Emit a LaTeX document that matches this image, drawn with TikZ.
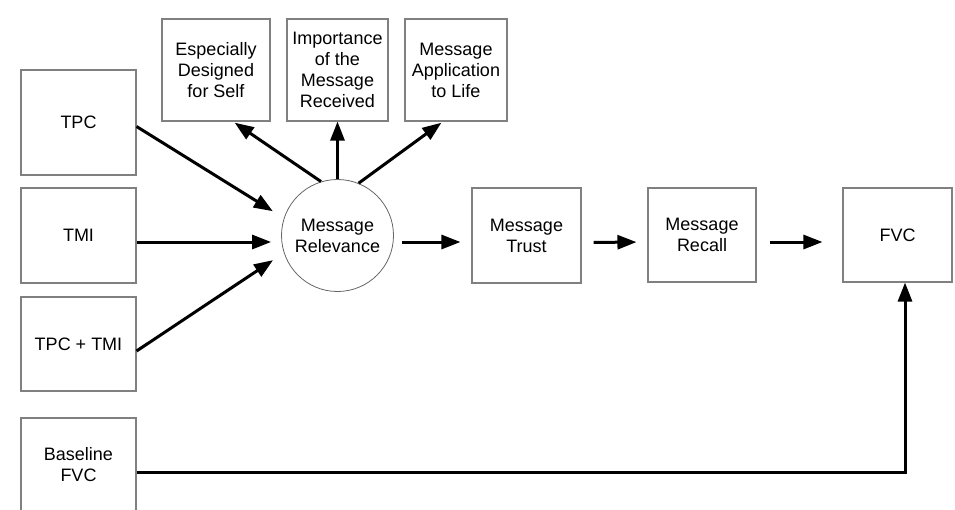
\documentclass[tikz,border=0pt]{standalone}
\usepackage{fontspec}
\setmainfont{Liberation Sans}
\usepackage{tikz}
\usetikzlibrary{arrows.meta,%
	positioning,%
	calc}

\begin{document}
\begin{tikzpicture}[x=1pt, y=-1pt, box/.style = {rectangle, draw=gray, line width=1.1pt, fill=white, align=center, inner sep=2pt, font=\fontsize{18}{21}\selectfont},factor/.style = {circle, draw=gray!80!black, line width=0.8pt, fill=white, align=center, inner sep=0pt, minimum size=112pt, font=\fontsize{18}{21}\selectfont},edge/.style = {line width=3pt, -{Triangle[length=19pt,width=14pt]}}]
	\useasboundingbox (0,0) rectangle (955,509);
	\node[box, minimum width=115pt, minimum height=105pt] (tpc) at (78.5,122.5) {TPC};
	\node[box, minimum width=115pt, minimum height=95pt] (tmi) at (78.5,235.5) {TMI};
	\node[box, minimum width=115pt, minimum height=94pt] (both) at (78.5,344) {TPC + TMI};
	\node[box, minimum width=115pt, minimum height=94pt] (base) at (78.5,465) {Baseline\\FVC};
	\node[factor] (rel) at (337.5,235.5) {Message\\Relevance};
	\node[box, minimum width=108pt, minimum height=102pt] (self) at (216,70) {Especially\\Designed\\for Self};
	\node[box, minimum width=101pt, minimum height=102pt] (imp) at (337.5,70) {Importance\\of the\\Message\\Received};
	\node[box, minimum width=102pt, minimum height=102pt] (life) at (456,70) {Message\\Application\\to Life};
	\node[box, minimum width=109pt, minimum height=95pt] (trust) at (526.5,235.5) {Message\\Trust};
	\node[box, minimum width=108pt, minimum height=94pt] (recall) at (702,235) {Message\\Recall};
	\node[box, minimum width=109pt, minimum height=94pt] (fvc) at (897.5,235) {FVC};
	% inputs to relevance
	\draw[edge, shorten >=13pt] ([yshift=-4pt]tpc.east) to (rel.162);
	\draw[edge, shorten >=10pt] ([yshift=-6.5pt]tmi.east) to ([yshift=-6.5pt]rel.west);
	\draw[edge, shorten >=13pt] ([yshift=-7pt]both.east) to (rel.198);
	% relevance to its parts
	\draw[edge, shorten >=2pt] (rel.107) to ([xshift=17pt]self.south);
	\draw[edge] (rel.north) to (imp.south);
	\draw[edge, shorten >=2pt] (rel.68) to ([xshift=-13pt]life.south);
	% chain
	\draw[edge, shorten <=8pt, shorten >=11pt] ([yshift=-6.5pt]rel.east) to ([yshift=-6.5pt]trust.west);
	\draw[edge, shorten <=12pt, shorten >=11pt] ([yshift=-7pt]trust.east) to ([yshift=-7pt]recall.west);
	\draw[edge, shorten <=13pt, shorten >=20pt] ([yshift=-7pt]recall.east) to ([yshift=-7pt]fvc.west);
	\draw[edge] ([yshift=-7pt]base.east) -| ([xshift=7.5pt]fvc.south);
\end{tikzpicture}
\end{document}
